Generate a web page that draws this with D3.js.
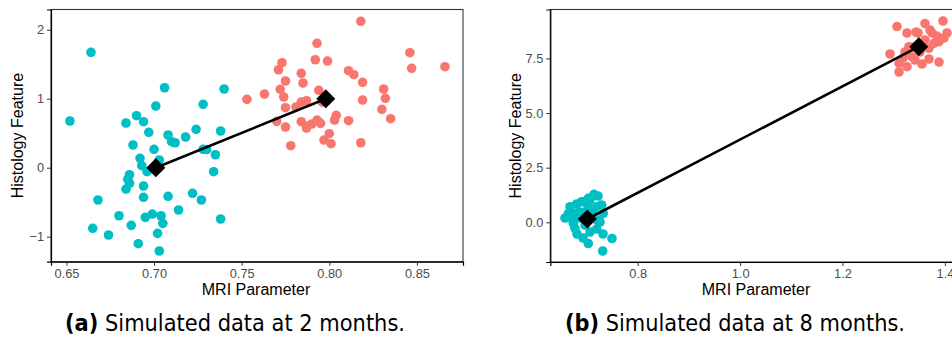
<!DOCTYPE html>
<html>
<head>
<meta charset="utf-8">
<script src="https://cdn.jsdelivr.net/npm/d3@7"></script>
<style>
  html, body { margin: 0; padding: 0; background: #fff; }
  svg { display: block; }
</style>
</head>
<body>
<svg id="chart" width="952" height="347"></svg>
<script>
// ---------- Panel (a): 2 months ----------
const a_tealX = [0.664,0.652,0.706,0.740,0.701,0.728,0.684,0.690,0.694,0.697,0.724,0.738,0.708,0.718,0.688,0.710,0.712,0.700,0.728,0.730,0.735,0.692,0.703,0.693,0.696,0.686,0.685,0.686,0.684,0.694,0.734,0.694,0.668,0.708,0.722,0.727,0.714,0.680,0.695,0.699,0.704,0.705,0.738,0.687,0.665,0.674,0.702,0.691,0.703];
const a_tealY = [1.672,0.677,1.159,1.141,0.894,0.919,0.648,0.754,0.667,0.513,0.557,0.532,0.474,0.445,0.329,0.377,0.362,0.267,0.267,0.264,0.188,0.136,0.112,0.029,-0.058,-0.101,-0.168,-0.226,-0.309,-0.265,-0.058,-0.429,-0.468,-0.414,-0.371,-0.468,-0.613,-0.696,-0.719,-0.671,-0.696,-0.806,-0.743,-0.835,-0.878,-0.975,-0.951,-1.101,-1.207];
const a_redX = [0.818,0.793,0.846,0.773,0.771,0.792,0.799,0.784,0.811,0.814,0.847,0.866,0.775,0.785,0.819,0.772,0.794,0.831,0.753,0.763,0.774,0.832,0.819,0.784,0.787,0.796,0.775,0.781,0.830,0.804,0.835,0.803,0.811,0.770,0.775,0.784,0.787,0.790,0.793,0.795,0.787,0.800,0.797,0.801,0.818,0.778];
const a_redY = [2.122,1.803,1.667,1.522,1.420,1.565,1.546,1.368,1.406,1.348,1.441,1.464,1.257,1.228,1.238,1.136,1.122,1.141,0.991,1.068,1.025,1.006,0.981,0.952,0.971,0.952,0.870,0.880,0.846,0.759,0.710,0.691,0.681,0.672,0.590,0.667,0.604,0.633,0.691,0.643,0.575,0.493,0.401,0.348,0.362,0.319];
const a_meansX = [0.701, 0.798];
const a_meansY = [0.000, 1.000];
const a_xTicks = [0.65, 0.70, 0.75, 0.80, 0.85];
const a_yTicks = [-1, 0, 1, 2];

// ---------- Panel (b): 8 months ----------
const b_tealX = [0.7146,0.7035,0.6906,0.6809,0.6678,0.6648,0.6775,0.7297,0.7199,0.7328,0.6742,0.6775,0.6814,0.7199,0.7322,0.7498,0.7035,0.7316,0.6937,0.7068,0.7133,0.6873,0.6971,0.7068,0.6932,0.7205,0.6873,0.7029,0.7225,0.6580,0.6717,0.7264,0.6971];
const b_tealY = [1.281,1.098,0.943,0.838,0.714,0.412,0.412,0.792,0.714,0.412,-0.046,-0.275,-0.535,-0.307,-0.535,-0.741,-0.970,-1.313,0.943,1.021,0.563,0.197,-0.124,-0.444,-0.719,0.105,0.471,0.654,1.204,0.197,0.197,0.014,0.334];
const b_redX = [1.3064,1.3260,1.3611,1.3963,1.3436,1.3748,1.3846,1.3885,1.3787,1.3299,1.3221,1.2928,1.3357,1.3104,1.3689,1.3885,1.3104,1.3689,1.3260,1.3475,1.3377,1.3514,1.3611,1.3416,1.3553,1.3983,1.3182,1.3709,1.4041];
const b_redY = [8.961,8.664,9.098,9.213,8.709,8.664,8.526,8.265,8.192,8.037,7.794,7.703,7.579,7.277,7.474,7.336,6.879,7.963,7.121,8.664,8.023,7.794,8.343,7.428,7.245,8.435,7.519,8.801,8.664];
const b_meansX = [0.7016, 1.349];
const b_meansY = [0.15, 8.04];
const b_xTicks = [0.8, 1.0, 1.2, 1.4];
const b_yTicks = [0.0, 2.5, 5.0, 7.5];

const captions = [
  { label: "(a)", text: " Simulated data at 2 months." },
  { label: "(b)", text: " Simulated data at 8 months." }
];

const TEAL = "#00BFC4", RED = "#F8766D";
const svg = d3.select("#chart");
const axisFont = "'Liberation Sans', Arial, Helvetica, sans-serif";

function zip(xs, ys) { return xs.map((x, i) => ({ x, y: ys[i] })); }

function panel(cfg) {
  const x = d3.scaleLinear().domain(cfg.xDom).range([cfg.left, cfg.right]);
  const y = d3.scaleLinear().domain(cfg.yDom).range([cfg.bottom, cfg.top]);
  const g = svg.append("g");
  const clipId = "clip" + cfg.id;
  svg.append("clipPath").attr("id", clipId).append("rect")
    .attr("x", cfg.left).attr("y", cfg.top)
    .attr("width", cfg.right - cfg.left).attr("height", cfg.bottom - cfg.top);

  // panel border
  g.append("rect")
    .attr("x", cfg.left).attr("y", cfg.top)
    .attr("width", cfg.right - cfg.left).attr("height", cfg.bottom - cfg.top)
    .attr("fill", "none").attr("stroke", "#333").attr("stroke-width", 1.1);

  const pg = g.append("g").attr("clip-path", `url(#${clipId})`);
  pg.selectAll("circle.teal").data(zip(cfg.tealX, cfg.tealY)).join("circle")
    .attr("class", "teal").attr("cx", d => x(d.x)).attr("cy", d => y(d.y))
    .attr("r", 4.8).attr("fill", TEAL);
  pg.selectAll("circle.red").data(zip(cfg.redX, cfg.redY)).join("circle")
    .attr("class", "red").attr("cx", d => x(d.x)).attr("cy", d => y(d.y))
    .attr("r", 4.8).attr("fill", RED);

  const means = zip(cfg.meansX, cfg.meansY);
  pg.append("path").datum(means)
    .attr("d", d3.line().x(d => x(d.x)).y(d => y(d.y)))
    .attr("fill", "none").attr("stroke", "#000").attr("stroke-width", 2.6);
  pg.selectAll("path.mean").data(means).join("path")
    .attr("class", "mean")
    .attr("d", d3.symbol(d3.symbolDiamond2, 230)())
    .attr("transform", d => `translate(${x(d.x)},${y(d.y)})`)
    .attr("fill", "#000");

  // axes
  const xAxis = g.append("g").attr("transform", `translate(0,${cfg.bottom})`)
    .call(d3.axisBottom(x).tickValues(cfg.xTicks).tickSize(4).tickPadding(3)
      .tickFormat(cfg.xFmt));
  const yAxis = g.append("g").attr("transform", `translate(${cfg.left},0)`)
    .call(d3.axisLeft(y).tickValues(cfg.yTicks).tickSize(4).tickPadding(3)
      .tickFormat(cfg.yFmt));
  [xAxis, yAxis].forEach(ax => {
    ax.select(".domain").attr("stroke", "#000").attr("stroke-width", 1.2);
    ax.selectAll(".tick line").attr("stroke", "#333").attr("stroke-width", 1);
    ax.selectAll(".tick text").attr("fill", "#4d4d4d")
      .style("font-family", axisFont).style("font-size", "12.8px");
  });

  // axis titles
  g.append("text").attr("x", cfg.xTitleX)
    .attr("y", 294.5).attr("text-anchor", "middle")
    .style("font-family", axisFont).style("font-size", "16px").attr("fill", "#000")
    .text("MRI Parameter");
  g.append("text")
    .attr("transform", `translate(${cfg.yTitleX},${(cfg.top + cfg.bottom) / 2}) rotate(-90)`)
    .attr("text-anchor", "middle")
    .style("font-family", axisFont).style("font-size", "16px").attr("fill", "#000")
    .text("Histology Feature");
}

panel({
  id: "a", left: 51, right: 463, top: 9.5, bottom: 261.7,
  xDom: [0.6412, 0.8763], yDom: [-1.362, 2.293],
  tealX: a_tealX, tealY: a_tealY, redX: a_redX, redY: a_redY,
  meansX: a_meansX, meansY: a_meansY,
  xTicks: a_xTicks, yTicks: a_yTicks,
  xFmt: d3.format(".2f"), yFmt: d => d3.format("d")(d).replace("-", "\u2212"),
  yTitleX: 23, xTitleX: 256
});

panel({
  id: "b", left: 550.3, right: 962, top: 9.5, bottom: 262,
  xDom: [0.6293, 1.4334], yDom: [-1.817, 9.74],
  tealX: b_tealX, tealY: b_tealY, redX: b_redX, redY: b_redY,
  meansX: b_meansX, meansY: b_meansY,
  xTicks: b_xTicks, yTicks: b_yTicks,
  xFmt: d3.format(".1f"), yFmt: d3.format(".1f"),
  yTitleX: 520.5, xTitleX: 756
});

// captions
const capX = [65, 565];
captions.forEach((c, i) => {
  const t = svg.append("text").attr("x", capX[i]).attr("y", 331)
    .attr("textLength", 340).attr("lengthAdjust", "spacingAndGlyphs")
    .style("font-family", "'Liberation Sans Narrow', 'DejaVu Sans Condensed', 'DejaVu Sans', sans-serif")
    .style("font-size", "23px").attr("fill", "#000");
  t.append("tspan").style("font-weight", "bold").text(c.label);
  t.append("tspan").text(c.text);
});
</script>
</body>
</html>
